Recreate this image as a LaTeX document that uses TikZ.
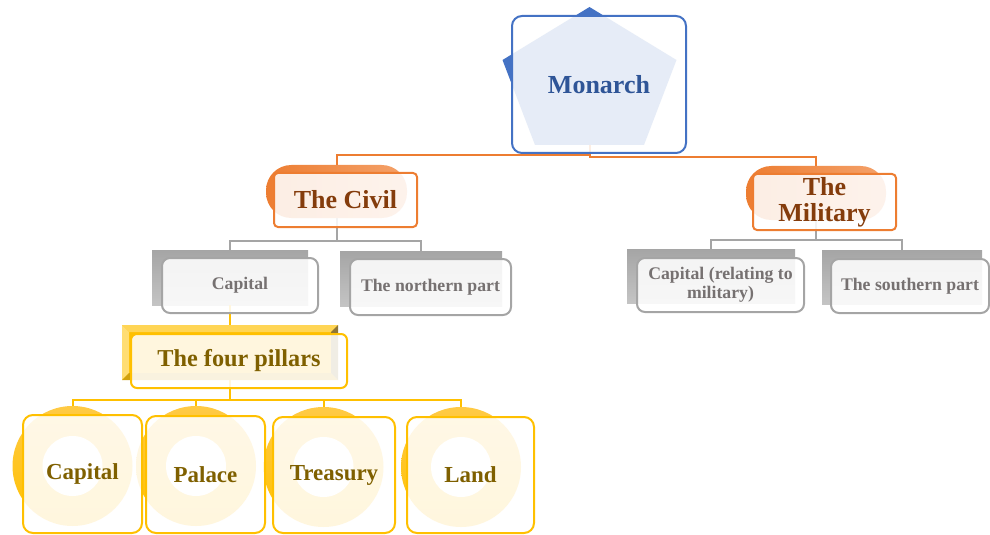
\documentclass[tikz,border=0pt]{standalone}
\usepackage{fontspec}
\setmainfont{Liberation Serif}
\usetikzlibrary{calc}
\definecolor{kingblue}{HTML}{4472C4}
\definecolor{kingtext}{HTML}{2F5597}
\definecolor{civilorange}{HTML}{ED7D31}
\definecolor{civillight}{HTML}{F4A26B}
\definecolor{civiltext}{HTML}{843C0C}
\definecolor{partgray}{HTML}{A5A5A5}
\definecolor{partlight}{HTML}{C4C4C4}
\definecolor{parttext}{HTML}{767171}
\definecolor{pillargold}{HTML}{FFC000}
\definecolor{pillarlight}{HTML}{FFCA45}
\definecolor{pillartext}{HTML}{7F6000}
\definecolor{beveltop}{HTML}{FFD555}
\definecolor{bevelleft}{HTML}{FFDD73}
\definecolor{bevelbottom}{HTML}{D1A10E}
\definecolor{bevelright}{HTML}{8F7636}

\begin{document}
\begin{tikzpicture}[x=0.75pt,y=-0.75pt]
\tikzstyle{underlay}=[draw=none,inner sep=0pt,outer sep=0pt];
\tikzstyle{rank_pill}=[underlay,rounded corners=19pt,left color=civilorange,right color=civillight];
\tikzstyle{part_shadow}=[underlay,top color=partgray,bottom color=partlight];
\tikzstyle{pillar_disc}=[underlay,circle,top color=pillarlight,bottom color=pillargold,minimum size=90pt];
\tikzstyle{pillar_hole}=[underlay,circle,fill=white,minimum size=45pt];
\tikzstyle{veil}=[fill=white,fill opacity=.87,text opacity=1,line width=1.5pt,inner sep=2pt,outer sep=0pt,align=center];
\tikzstyle{king_box}=[veil,draw=kingblue,rounded corners=7.5pt,text=kingtext,font=\fontsize{19.5}{20}\selectfont\bfseries];
\tikzstyle{rank_box}=[veil,draw=civilorange,rounded corners=3pt,text=civiltext,font=\fontsize{19.5}{19.5}\selectfont\bfseries];
\tikzstyle{part_box}=[veil,draw=partgray,rounded corners=6pt,text=parttext,font=\fontsize{13.3}{14}\selectfont\bfseries];
\tikzstyle{pillars_box}=[veil,draw=pillargold,rounded corners=4.5pt,text=pillartext,font=\fontsize{18.2}{20}\selectfont\bfseries];
\tikzstyle{pillar_box}=[veil,draw=pillargold,rounded corners=7.5pt,text=pillartext,font=\fontsize{17.2}{19}\selectfont\bfseries];
\tikzstyle{orange_link}=[draw=civilorange,line width=1.5pt];
\tikzstyle{gray_link}=[draw=partgray,line width=1.5pt];
\tikzstyle{gold_link}=[draw=pillargold,line width=1.5pt];
\useasboundingbox (0,0) rectangle (990,535);
\coordinate (king_top) at (589.5,7);
\coordinate (king_right) at (676.5,60);
\coordinate (king_br) at (644,145);
\coordinate (king_bl) at (535,145);
\coordinate (king_left) at (502.5,60);
\coordinate (king_base) at (589.5,145);
\coordinate (king) at (599,84.5);
\coordinate (civil_split) at (589.5,155);
\coordinate (military_split) at (589.5,157);
\coordinate (civil_bg) at (336.5,191.5);
\coordinate (civil) at (345.5,200);
\coordinate (military_bg) at (816,193);
\coordinate (military) at (824.5,202);
\coordinate (civil_bus) at (336.5,241);
\coordinate (military_bus) at (816,240);
\coordinate (capital_bg) at (230,277.5);
\coordinate (capital) at (240,285.5);
\coordinate (north_bg) at (421,278.5);
\coordinate (north) at (430.5,287);
\coordinate (army_capital_bg) at (711,276);
\coordinate (army_capital) at (720.5,285);
\coordinate (south_bg) at (902,277);
\coordinate (south) at (910,286);
\coordinate (pillars_bg) at (230,352.5);
\coordinate (pillars) at (239,361);
\coordinate (pillars_bus) at (230,400);
\coordinate (disc_capital) at (72.5,466);
\coordinate (disc_palace) at (196,466);
\coordinate (disc_treasury) at (323.5,467);
\coordinate (disc_land) at (461,467);
\coordinate (pillar_capital) at (82.5,474);
\coordinate (pillar_palace) at (205.5,474.5);
\coordinate (pillar_treasury) at (334,475);
\coordinate (pillar_land) at (470.5,475);
\path (king_top) -- (king_right) -- (king_br) -- (king_bl) -- (king_left) -- cycle [fill=kingblue];
\node (civil_pill) at (civil_bg) [rank_pill,minimum width=105.75pt,minimum height=39.75pt] {};
\node (military_pill) at (military_bg) [rank_pill,minimum width=105pt,minimum height=40.5pt] {};
\node (capital_shadow) at (capital_bg) [part_shadow,minimum width=117pt,minimum height=41.25pt] {};
\node (north_shadow) at (north_bg) [part_shadow,minimum width=121.5pt,minimum height=41.25pt] {};
\node (army_capital_shadow) at (army_capital_bg) [part_shadow,minimum width=126pt,minimum height=40.5pt] {};
\node (south_shadow) at (south_bg) [part_shadow,minimum width=120pt,minimum height=40.5pt] {};
\node (pillars_bevel) at (pillars_bg) [underlay,fill=pillargold,minimum width=162pt,minimum height=41.25pt] {};
\path (pillars_bevel.north west) -- (pillars_bevel.north east) -- ($(pillars_bevel.north east)+(-7,7)$) -- ($(pillars_bevel.north west)+(7,7)$) -- cycle [fill=beveltop];
\path (pillars_bevel.north west) -- ($(pillars_bevel.north west)+(7,7)$) -- ($(pillars_bevel.south west)+(7,-7)$) -- (pillars_bevel.south west) -- cycle [fill=bevelleft];
\path (pillars_bevel.south west) -- ($(pillars_bevel.south west)+(7,-7)$) -- ($(pillars_bevel.south east)+(-7,-7)$) -- (pillars_bevel.south east) -- cycle [fill=bevelbottom];
\path (pillars_bevel.north east) -- (pillars_bevel.south east) -- ($(pillars_bevel.south east)+(-7,-7)$) -- ($(pillars_bevel.north east)+(-7,7)$) -- cycle [fill=bevelright];
\node (capital_disc) at (disc_capital) [pillar_disc] {};
\node (palace_disc) at (disc_palace) [pillar_disc] {};
\node (treasury_disc) at (disc_treasury) [pillar_disc] {};
\node (land_disc) at (disc_land) [pillar_disc] {};
\node (capital_hole) at (disc_capital) [pillar_hole] {};
\node (palace_hole) at (disc_palace) [pillar_hole] {};
\node (treasury_hole) at (disc_treasury) [pillar_hole] {};
\node (land_hole) at (disc_land) [pillar_hole] {};
\path (king_base) -- (civil_split) -| (civil_pill.north) [orange_link];
\path (king_base) -- (military_split) -| (military_pill.north) [orange_link];
\path (civil_pill.south) -- (civil_bus) -| (capital_shadow.north) [gray_link];
\path (civil_bus) -| (north_shadow.north) [gray_link];
\path (military_pill.south) -- (military_bus) -| (army_capital_shadow.north) [gray_link];
\path (military_bus) -| (south_shadow.north) [gray_link];
\path (capital_shadow.south) -- (pillars_bevel.north) [gold_link];
\path (pillars_bevel.south) -- (pillars_bus) -| (capital_disc.north) [gold_link];
\path (pillars_bus) -| (palace_disc.north) [gold_link];
\path (pillars_bus) -| (treasury_disc.north) [gold_link];
\path (pillars_bus) -| (land_disc.north) [gold_link];
\node (monarch) at (king) [king_box,minimum width=130.5pt,minimum height=102.75pt] {Monarch};
\node (the_civil) at (civil) [rank_box,minimum width=107.25pt,minimum height=40.5pt] {The Civil};
\node (the_military) at (military) [rank_box,minimum width=107.25pt,minimum height=42pt] {The\\Military};
\node (capital_part) at (capital) [part_box,minimum width=117pt,minimum height=41.25pt] {Capital};
\node (north_part) at (north) [part_box,minimum width=120.75pt,minimum height=42pt] {The northern part};
\node (army_capital_part) at (army_capital) [part_box,minimum width=125.25pt,minimum height=40.5pt] {Capital (relating to\\military)};
\node (south_part) at (south) [part_box,minimum width=118.5pt,minimum height=40.5pt] {The southern part};
\node (four_pillars) at (pillars) [pillars_box,minimum width=162pt,minimum height=40.5pt] {The four pillars};
\node (capital_pillar) at (pillar_capital) [pillar_box,minimum width=89.25pt,minimum height=88.5pt] {Capital};
\node (palace_pillar) at (pillar_palace) [pillar_box,minimum width=89.25pt,minimum height=87.75pt] {Palace};
\node (treasury_pillar) at (pillar_treasury) [pillar_box,minimum width=91.5pt,minimum height=87pt] {Treasury};
\node (land_pillar) at (pillar_land) [pillar_box,minimum width=95.25pt,minimum height=87pt] {Land};
\end{tikzpicture}
\end{document}
